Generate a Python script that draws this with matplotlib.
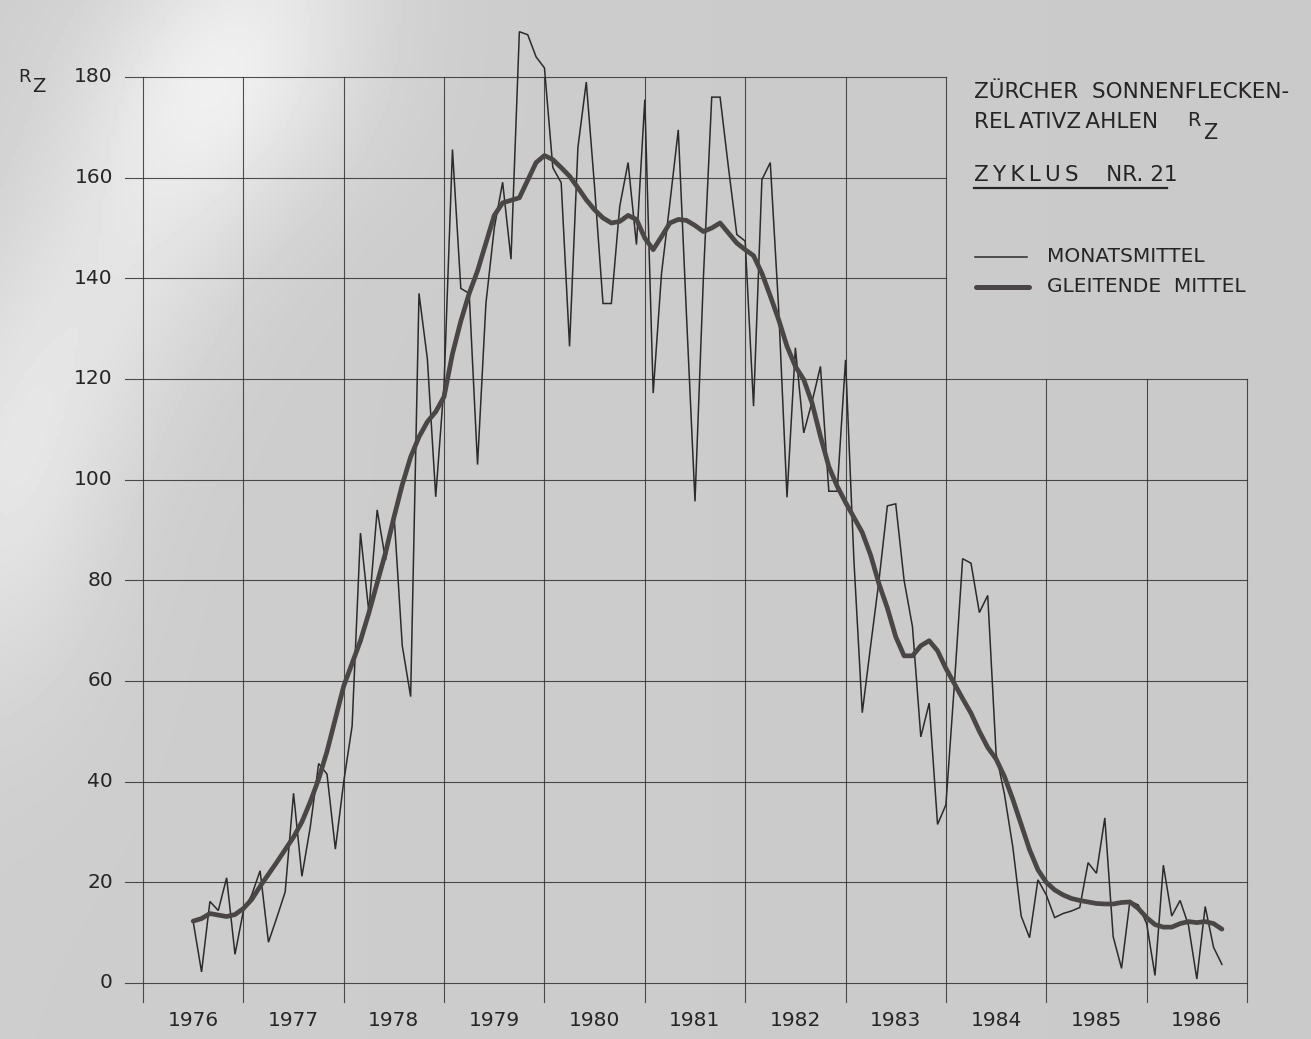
import numpy as np
import matplotlib.pyplot as plt

# ==================== DATA ====================
# Zuercher Sonnenflecken-Relativzahlen, Zyklus 21 (Juni 1976 - Sept. 1986)
start_year = 1976
start_month = 6

monatsmittel = [
    12.2, 2.2, 16.2, 14.4, 20.9, 5.7, 14.3,                                    # 1976
    17.5, 22.3, 8.1, 13.0, 18.1, 37.7, 21.2, 31.0, 43.6, 41.5, 26.6, 40.0,      # 1977
    51.0, 89.4, 73.8, 94.0, 84.0, 93.4, 67.0, 56.9, 137.0, 124.0, 96.6, 119.0,  # 1978
    165.6, 138.0, 137.0, 103.0, 135.0, 150.0, 159.1, 143.8, 189.0, 188.4, 184.0, 181.8,  # 1979
    162.0, 159.0, 126.5, 166.0, 179.0, 158.0, 135.0, 135.0, 154.3, 163.0, 146.7, 175.5,  # 1980
    117.2, 141.0, 155.0, 169.5, 132.0, 95.7, 140.0, 176.0, 176.0, 162.0, 148.7, 147.4,   # 1981
    114.6, 159.6, 163.0, 134.0, 96.5, 126.2, 109.3, 115.5, 122.5, 97.7, 97.7, 123.8,     # 1982
    84.0, 53.7, 67.0, 80.0, 94.8, 95.2, 80.0, 70.8, 48.9, 55.6, 31.5, 35.4,    # 1983
    59.0, 84.3, 83.4, 73.6, 77.0, 45.5, 37.5, 27.0, 13.3, 9.0, 20.5, 17.5,     # 1984
    13.0, 13.8, 14.3, 15.0, 23.9, 21.8, 32.8, 9.2, 2.9, 16.3, 15.5, 11.8,      # 1985
    1.5, 23.4, 13.3, 16.4, 11.5, 0.8, 15.2, 7.1, 3.7,                          # 1986
]

gleitende_mittel = [
    12.3, 12.8, 13.8, 13.5, 13.2, 13.6, 14.8,
    16.6, 19.2, 21.6, 24.0, 26.5, 29.0, 32.0, 36.0, 40.5, 46.0, 52.5, 59.0,
    63.5, 68.0, 73.5, 79.5, 85.5, 92.5, 99.0, 104.5, 108.5, 111.5, 113.5, 116.5,
    125.0, 131.5, 137.0, 141.5, 147.0, 152.5, 155.0, 155.5, 156.0, 159.5, 163.0, 164.4,
    163.6, 162.0, 160.3, 158.0, 155.6, 153.6, 152.0, 151.0, 151.3, 152.5, 151.7, 148.0,
    145.7, 148.3, 151.0, 151.7, 151.5, 150.5, 149.3, 150.0, 151.0, 149.0, 147.0, 145.7,
    144.5, 141.0, 136.5, 131.8, 126.5, 122.5, 119.9, 115.2, 108.6, 102.6, 98.7, 95.5,
    92.5, 89.5, 85.0, 79.3, 74.5, 68.8, 65.0, 65.0, 67.0, 68.0, 66.0, 62.5,
    59.5, 56.5, 53.6, 50.0, 46.8, 44.5, 41.0, 36.5, 31.5, 26.5, 22.5, 20.0,
    18.5, 17.5, 16.8, 16.4, 16.1, 15.8, 15.7, 15.7, 16.0, 16.1, 14.8, 13.0,
    11.6, 11.1, 11.1, 11.8, 12.2, 12.0, 12.2, 11.8, 10.7,
]

years = list(range(1976, 1987))
y_ticks = [0, 20, 40, 60, 80, 100, 120, 140, 160, 180]
# ==============================================

W, H = 1311, 1039
ink = '#333131'
txt = '#262424'

plt.rcParams['font.family'] = ['DejaVu Sans']

fig = plt.figure(figsize=(W / 100, H / 100), dpi=100)

# paper background with the light glare from the photo
bg = fig.add_axes([0, 0, 1, 1], zorder=-10)
yy, xx = np.mgrid[0:1:260j, 0:1:330j]
shade = 0.805 - 0.015 * xx
# diagonal glare band from the top left towards the left edge
d = (xx * 0.9 + yy * 0.35 - 0.17)
shade += 0.09 * np.exp(-(d / 0.09) ** 2) * np.exp(-((yy - 0.15) / 0.45) ** 2)
shade += 0.05 * np.exp(-(((xx - 0.18) / 0.12) ** 2 + ((yy - 0.08) / 0.12) ** 2))
shade += 0.04 * np.exp(-(((xx - 0.01) / 0.08) ** 2 + ((yy - 0.50) / 0.2) ** 2))
bg.imshow(np.clip(shade, 0, 1), cmap='gray', vmin=0, vmax=1, aspect='auto',
          extent=[0, 1, 0, 1], origin='upper')
bg.axis('off')

def px(x, y):
    return x / W, 1 - y / H

ax = fig.add_axes([143 / W, 56 / H, 1104 / W, 906 / H])
ax.set_facecolor('none')
ax.set_xlim(1976, 1987)
ax.set_ylim(0, 180)
for s in ax.spines.values():
    s.set_visible(False)
ax.set_xticks([])
ax.set_yticks([])

# hand drawn grid: upper right corner is left free for the title
x_ext = 0.18
y_ext = 3.7
for v in y_ticks:
    x_end = 1987 if v <= 120 else 1984
    ax.plot([1976 - x_ext, x_end], [v, v], color=ink, lw=0.8, alpha=0.85,
            clip_on=False, zorder=1)
    ax.text(1976 - 0.3, v, str(v), ha='right', va='center', fontsize=14.5,
            color=txt)
for x in years + [1987]:
    y_end = 180 if x <= 1984 else 120
    ax.plot([x, x], [-y_ext, y_end], color=ink, lw=0.8, alpha=0.85,
            clip_on=False, zorder=1)
for yr in years:
    ax.text(yr + 0.5, -7.4, str(yr), ha='center', va='center', fontsize=14.5,
            color=txt)

# monthly values plotted at the end of each month
t = np.array([start_year + (start_month + i) / 12 for i in range(len(monatsmittel))])
ax.plot(t, monatsmittel, color='#2c2a2a', lw=1.1, zorder=3,
        solid_joinstyle='miter', clip_on=False)
ax.plot(t, gleitende_mittel, color='#4a4646', lw=3.4, zorder=4,
        solid_capstyle='round', solid_joinstyle='round', clip_on=False)

# axis label R_Z
fig.text(*px(24, 77), 'R', fontsize=13, ha='center', va='center', color=txt)
fig.text(*px(39, 87), 'Z', fontsize=14, ha='center', va='center', color=txt)

# title block
fig.text(*px(974, 92), 'ZÜRCHER  SONNENFLECKEN-', fontsize=15.5, ha='left',
         va='center', color=txt)
fig.text(*px(974, 122), 'REL\u2009ATIVZ\u2009AHLEN', fontsize=15.5, ha='left',
         va='center', color=txt)
fig.text(*px(1194, 121), 'R', fontsize=14, ha='center', va='center', color=txt)
fig.text(*px(1210, 133), 'Z', fontsize=15, ha='center', va='center', color=txt)
fig.text(*px(974, 175), 'Z\u2009Y\u2009K\u2009L\u2009U\u2009S    NR. 21',
         fontsize=15.5, ha='left', va='center', color=txt)
fig.add_artist(plt.Line2D([974 / W, 1167 / W], [1 - 188 / H, 1 - 188 / H],
                          color=txt, lw=1.6))

# legend
fig.add_artist(plt.Line2D([975 / W, 1027 / W], [1 - 257 / H, 1 - 257 / H],
                          color='#2c2a2a', lw=1.1))
fig.add_artist(plt.Line2D([976 / W, 1029 / W], [1 - 287 / H, 1 - 287 / H],
                          color='#4a4646', lw=3.6, solid_capstyle='round'))
fig.text(*px(1047, 256), 'MONATSMITTEL', fontsize=14.5, ha='left', va='center',
         color=txt)
fig.text(*px(1047, 287), 'GLEITENDE  MITTEL', fontsize=14.5, ha='left', va='center',
         color=txt)

fig.savefig('out.png', dpi=100)
